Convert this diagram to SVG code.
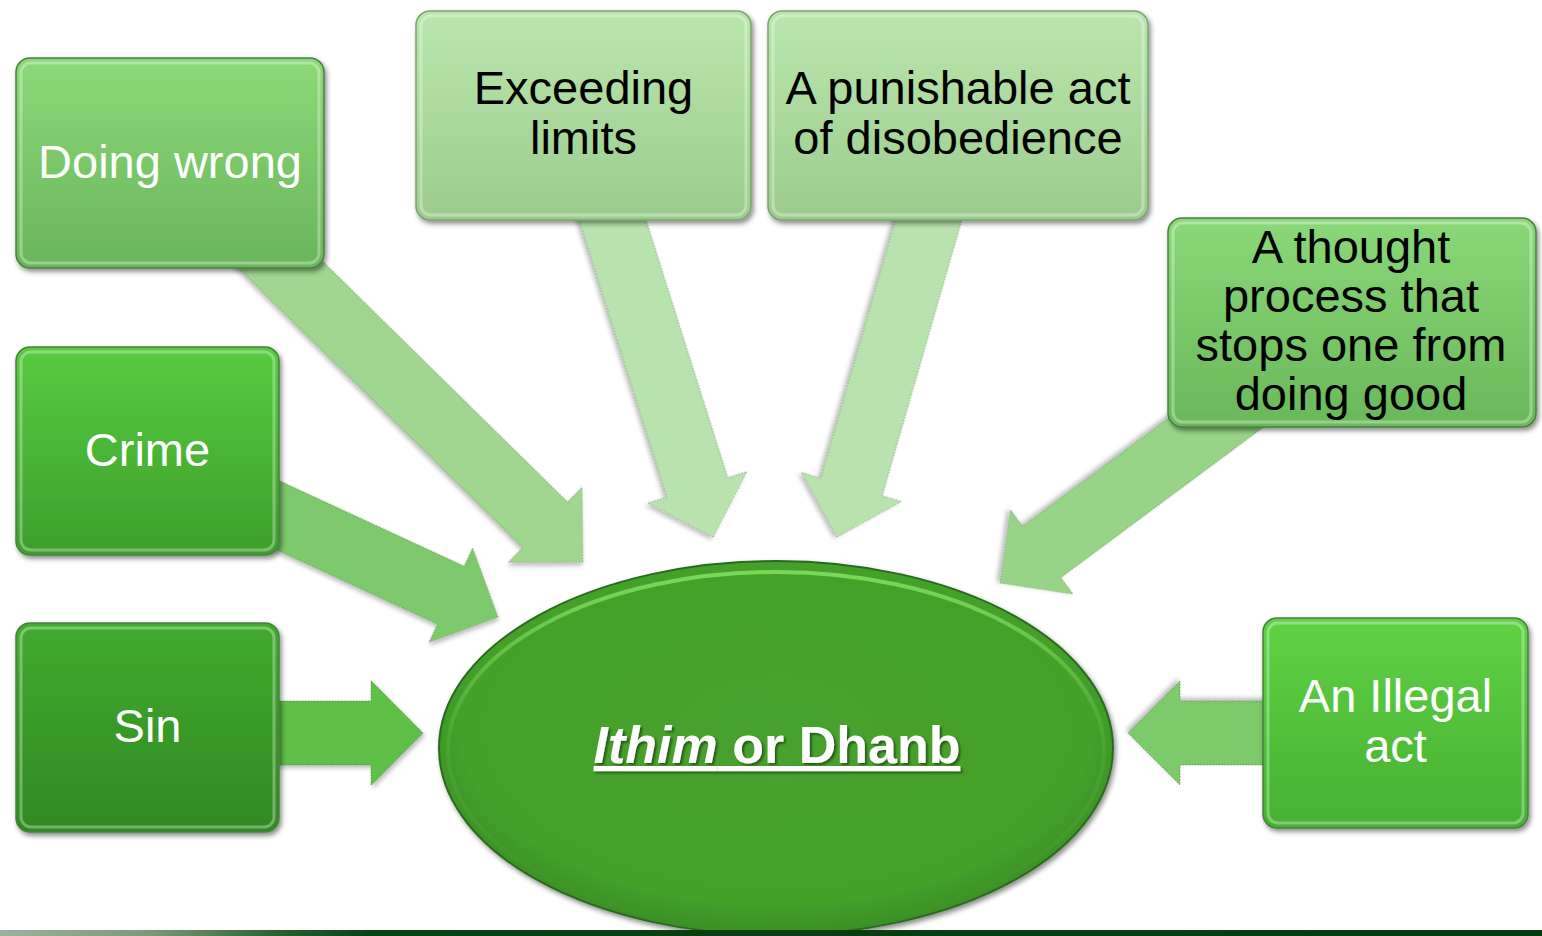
<svg xmlns="http://www.w3.org/2000/svg" width="1542" height="936" viewBox="0 0 1542 936">
<style>
.lbl{font-family:"Liberation Sans",Arial,sans-serif;font-size:47px;text-anchor:middle}
.w{fill:#ffffff}
.k{fill:#000000}
.arr{stroke:#4a7242;stroke-width:1;stroke-opacity:0.55;stroke-dasharray:1.5 1.5;filter:url(#sh)}
.box{stroke:#4a8040;stroke-width:1.5;filter:url(#bsh)}
.bev{fill:none;stroke:#ffffff;stroke-opacity:0.32;stroke-width:3}
</style>
<defs>
<filter id="sh" x="-10%" y="-10%" width="130%" height="130%">
<feDropShadow dx="2" dy="3" stdDeviation="2" flood-color="#000" flood-opacity="0.25"/>
</filter>
<filter id="bsh" x="-10%" y="-10%" width="130%" height="130%">
<feDropShadow dx="2" dy="3" stdDeviation="2.5" flood-color="#000" flood-opacity="0.45"/>
</filter>
<filter id="tsh" x="-10%" y="-20%" width="120%" height="150%">
<feDropShadow dx="2" dy="2" stdDeviation="1.2" flood-color="#000" flood-opacity="0.45"/>
</filter>
<linearGradient id="gDo" x1="0" y1="0" x2="0" y2="1"><stop offset="0" stop-color="#8cd97a"/><stop offset="1" stop-color="#69b559"/></linearGradient>
<linearGradient id="gLt" x1="0" y1="0" x2="0" y2="1"><stop offset="0" stop-color="#bae6ad"/><stop offset="1" stop-color="#9bcc8d"/></linearGradient>
<linearGradient id="gTh" x1="0" y1="0" x2="0" y2="1"><stop offset="0" stop-color="#8ad878"/><stop offset="1" stop-color="#69b859"/></linearGradient>
<linearGradient id="gCr" x1="0" y1="0" x2="0" y2="1"><stop offset="0" stop-color="#58cb40"/><stop offset="1" stop-color="#3c9f2b"/></linearGradient>
<linearGradient id="gSi" x1="0" y1="0" x2="0" y2="1"><stop offset="0" stop-color="#42aa2e"/><stop offset="1" stop-color="#2f8a22"/></linearGradient>
<linearGradient id="gIl" x1="0" y1="0" x2="0" y2="1"><stop offset="0" stop-color="#60d244"/><stop offset="1" stop-color="#46b032"/></linearGradient>
<radialGradient id="gEl" cx="0.5" cy="0.45" r="0.55"><stop offset="0" stop-color="#47a12d"/><stop offset="0.85" stop-color="#44a02b"/><stop offset="1" stop-color="#3a8f25"/></radialGradient>
<linearGradient id="gHi" x1="0" y1="0" x2="0" y2="1"><stop offset="0" stop-color="#7ee05f" stop-opacity="0.9"/><stop offset="0.45" stop-color="#7ee05f" stop-opacity="0.15"/><stop offset="1" stop-color="#7ee05f" stop-opacity="0"/></linearGradient>
<linearGradient id="gBar" x1="0" y1="0" x2="1" y2="0"><stop offset="0" stop-color="#9db39c"/><stop offset="0.1" stop-color="#779a74"/><stop offset="0.18" stop-color="#2d5e30"/><stop offset="0.24" stop-color="#0b4012"/><stop offset="1" stop-color="#073a0c"/></linearGradient>
</defs>
<rect x="0" y="0" width="1542" height="936" fill="#ffffff"/>

<g id="connectors">
<polygon class="arr" fill="#a0d690" transform="translate(583,562) rotate(44.5)" points="0,0 -53,-52.5 -53,-32 -465,-32 -465,32 -53,32 -53,52.5"/>
<polygon class="arr" fill="#b9e3ae" transform="translate(713,537) rotate(72.4)" points="0,0 -52,-52 -52,-32 -350,-32 -350,32 -52,32 -52,52"/>
<polygon class="arr" fill="#b9e3ae" transform="translate(837,537) rotate(106.1)" points="0,0 -52,-52 -52,-32 -350,-32 -350,32 -52,32 -52,52"/>
<polygon class="arr" fill="#98d488" transform="translate(1000,583) rotate(143.4)" points="0,0 -52,-52.5 -52,-32 -310,-32 -310,32 -52,32 -52,52.5"/>
<polygon class="arr" fill="#7ec96c" transform="translate(498,617) rotate(24.8)" points="0,0 -52,-52 -52,-32 -260,-32 -260,32 -52,32 -52,52"/>
<polygon class="arr" fill="#5fc047" transform="translate(423,733) rotate(0)" points="0,0 -52,-52.5 -52,-32 -160,-32 -160,32 -52,32 -52,52.5"/>
<polygon class="arr" fill="#7dca6b" transform="translate(1128,733) rotate(180)" points="0,0 -52,-52 -52,-32 -150,-32 -150,32 -52,32 -52,52"/>
</g>

<g id="center">
<ellipse cx="776" cy="748" rx="337" ry="187" fill="url(#gEl)" stroke="#2c6a1e" stroke-width="2" filter="url(#bsh)"/>
<ellipse cx="776" cy="750" rx="328" ry="178" fill="none" stroke="url(#gHi)" stroke-width="4"/>
<text x="777" y="763" font-family="Liberation Sans,Arial,sans-serif" font-size="52" font-weight="bold" fill="#ffffff" text-anchor="middle" text-decoration="underline" filter="url(#tsh)"><tspan font-style="italic">Ithim</tspan> or Dhanb</text>
</g>

<g id="node-doing-wrong">
<rect class="box" x="16" y="58" width="308" height="210" rx="14" fill="url(#gDo)"/>
<rect class="bev" x="21" y="63" width="298" height="200" rx="10"/>
<text class="lbl w" x="170" y="178">Doing wrong</text>
</g>

<g id="node-crime">
<rect class="box" x="16" y="347" width="263" height="208" rx="14" fill="url(#gCr)"/>
<rect class="bev" x="21" y="352" width="253" height="198" rx="10"/>
<text class="lbl w" x="147.5" y="466">Crime</text>
</g>

<g id="node-sin">
<rect class="box" x="16" y="623" width="263" height="209" rx="14" fill="url(#gSi)"/>
<rect class="bev" x="21" y="628" width="253" height="199" rx="10"/>
<text class="lbl w" x="147.5" y="742">Sin</text>
</g>

<g id="node-exceeding">
<rect class="box" x="416" y="11" width="335" height="209" rx="14" fill="url(#gLt)" style="stroke:#7aa56e"/>
<rect class="bev" x="421" y="16" width="325" height="199" rx="10"/>
<text class="lbl k" x="583.5" y="104">Exceeding</text>
<text class="lbl k" x="583.5" y="154">limits</text>
</g>

<g id="node-punishable">
<rect class="box" x="768" y="11" width="380" height="209" rx="14" fill="url(#gLt)" style="stroke:#7aa56e"/>
<rect class="bev" x="773" y="16" width="370" height="199" rx="10"/>
<text class="lbl k" x="958" y="104">A punishable act</text>
<text class="lbl k" x="958" y="154">of disobedience</text>
</g>

<g id="node-thought">
<rect class="box" x="1168" y="218" width="368" height="209" rx="14" fill="url(#gTh)"/>
<rect class="bev" x="1173" y="223" width="358" height="199" rx="10"/>
<text class="lbl k" x="1351" y="263">A thought</text>
<text class="lbl k" x="1351" y="312">process that</text>
<text class="lbl k" x="1351" y="361">stops one from</text>
<text class="lbl k" x="1351" y="410">doing good</text>
</g>

<g id="node-illegal">
<rect class="box" x="1263" y="618" width="265" height="210" rx="14" fill="url(#gIl)"/>
<rect class="bev" x="1268" y="623" width="255" height="200" rx="10"/>
<text class="lbl w" x="1395.5" y="712">An Illegal</text>
<text class="lbl w" x="1395.5" y="762">act</text>
</g>

<rect x="0" y="930" width="1542" height="6" fill="url(#gBar)"/>
</svg>
